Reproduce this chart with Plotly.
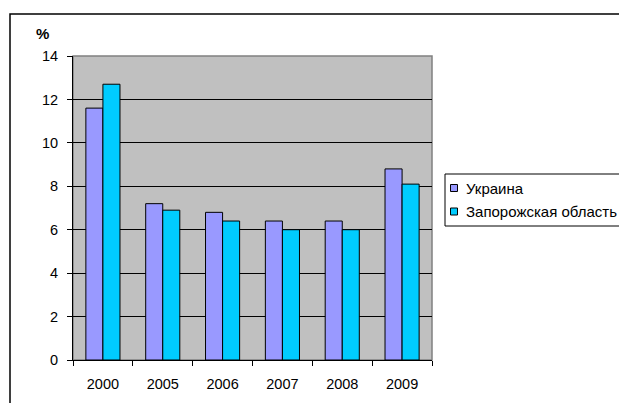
import plotly.graph_objects as go

years = ["2000", "2005", "2006", "2007", "2008", "2009"]
ukraine = [11.6, 7.2, 6.8, 6.4, 6.4, 8.8]
zaporozhye = [12.7, 6.9, 6.4, 6.0, 6.0, 8.1]
series_names = ["Украина", "Запорожская область"]
y_ticks = [0, 2, 4, 6, 8, 10, 12, 14]

colors = ["#9999FF", "#00CCFF"]

W, H = 627, 403
OFF = 8  # page body margin
# plot area in page pixels
L, R, T, B = 73, 432, 56, 360

def px(x):
    return (x - L) / (R - L)

def py(y):
    return (B - y) / (B - T)

fig = go.Figure()
for name, vals, c in zip(series_names, [ukraine, zaporozhye], colors):
    fig.add_trace(go.Bar(x=years, y=vals, name=name, showlegend=False,
                         marker=dict(color=c, line=dict(color="black", width=1))))

shapes = [
    dict(type="rect", xref="paper", yref="paper", x0=0, x1=1, y0=0, y1=1,
         line=dict(color="#808080", width=1.5), layer="below"),
    dict(type="rect", xref="paper", yref="paper",
         x0=px(10), x1=px(660), y0=py(14), y1=py(430),
         line=dict(color="black", width=1.5), layer="above"),
    # legend box
    dict(type="rect", xref="paper", yref="paper",
         x0=px(445), x1=px(660), y0=py(174), y1=py(226),
         line=dict(color="black", width=1), fillcolor="white", layer="above"),
]
annotations = [
    dict(text="<b>%</b>", xref="paper", yref="paper", x=px(42.5), y=py(33),
         showarrow=False, font=dict(size=15), xanchor="center", yanchor="middle"),
]
legend_y = [188, 211.5]
for name, c, ly in zip(series_names, colors, legend_y):
    shapes.append(dict(type="rect", xref="paper", yref="paper",
                       x0=px(450.5), x1=px(457.5), y0=py(ly - 3.5), y1=py(ly + 3.5),
                       line=dict(color="black", width=1), fillcolor=c, layer="above"))
    annotations.append(dict(text=name, xref="paper", yref="paper", x=px(464), y=py(ly),
                            showarrow=False, xanchor="left", yanchor="middle",
                            font=dict(size=15)))

fig.update_layout(
    width=W, height=H,
    margin=dict(l=L - OFF, r=W - (R - OFF), t=T - OFF, b=H - (B - OFF), pad=0),
    paper_bgcolor="white",
    plot_bgcolor="#C0C0C0",
    barmode="group",
    bargap=0.43,
    bargroupgap=0,
    font=dict(family="Liberation Sans, Arial", size=14.5, color="black"),
    showlegend=False,
    shapes=shapes,
    annotations=annotations,
)

fig.update_xaxes(
    type="category", showline=True, linecolor="black", linewidth=1,
    ticks="outside", ticklen=5, tickcolor="black", tickson="boundaries",
    showgrid=False, ticklabelstandoff=11, tickfont=dict(size=14.5), zeroline=False,
)
fig.update_yaxes(
    range=[0, 14], tickvals=y_ticks, showline=True, linecolor="black", linewidth=1,
    ticks="outside", ticklen=5, tickcolor="black",
    showgrid=True, gridcolor="black", gridwidth=1, zeroline=False,
    ticklabelstandoff=6, tickfont=dict(size=14.5),
)

fig.write_html("out.html")
